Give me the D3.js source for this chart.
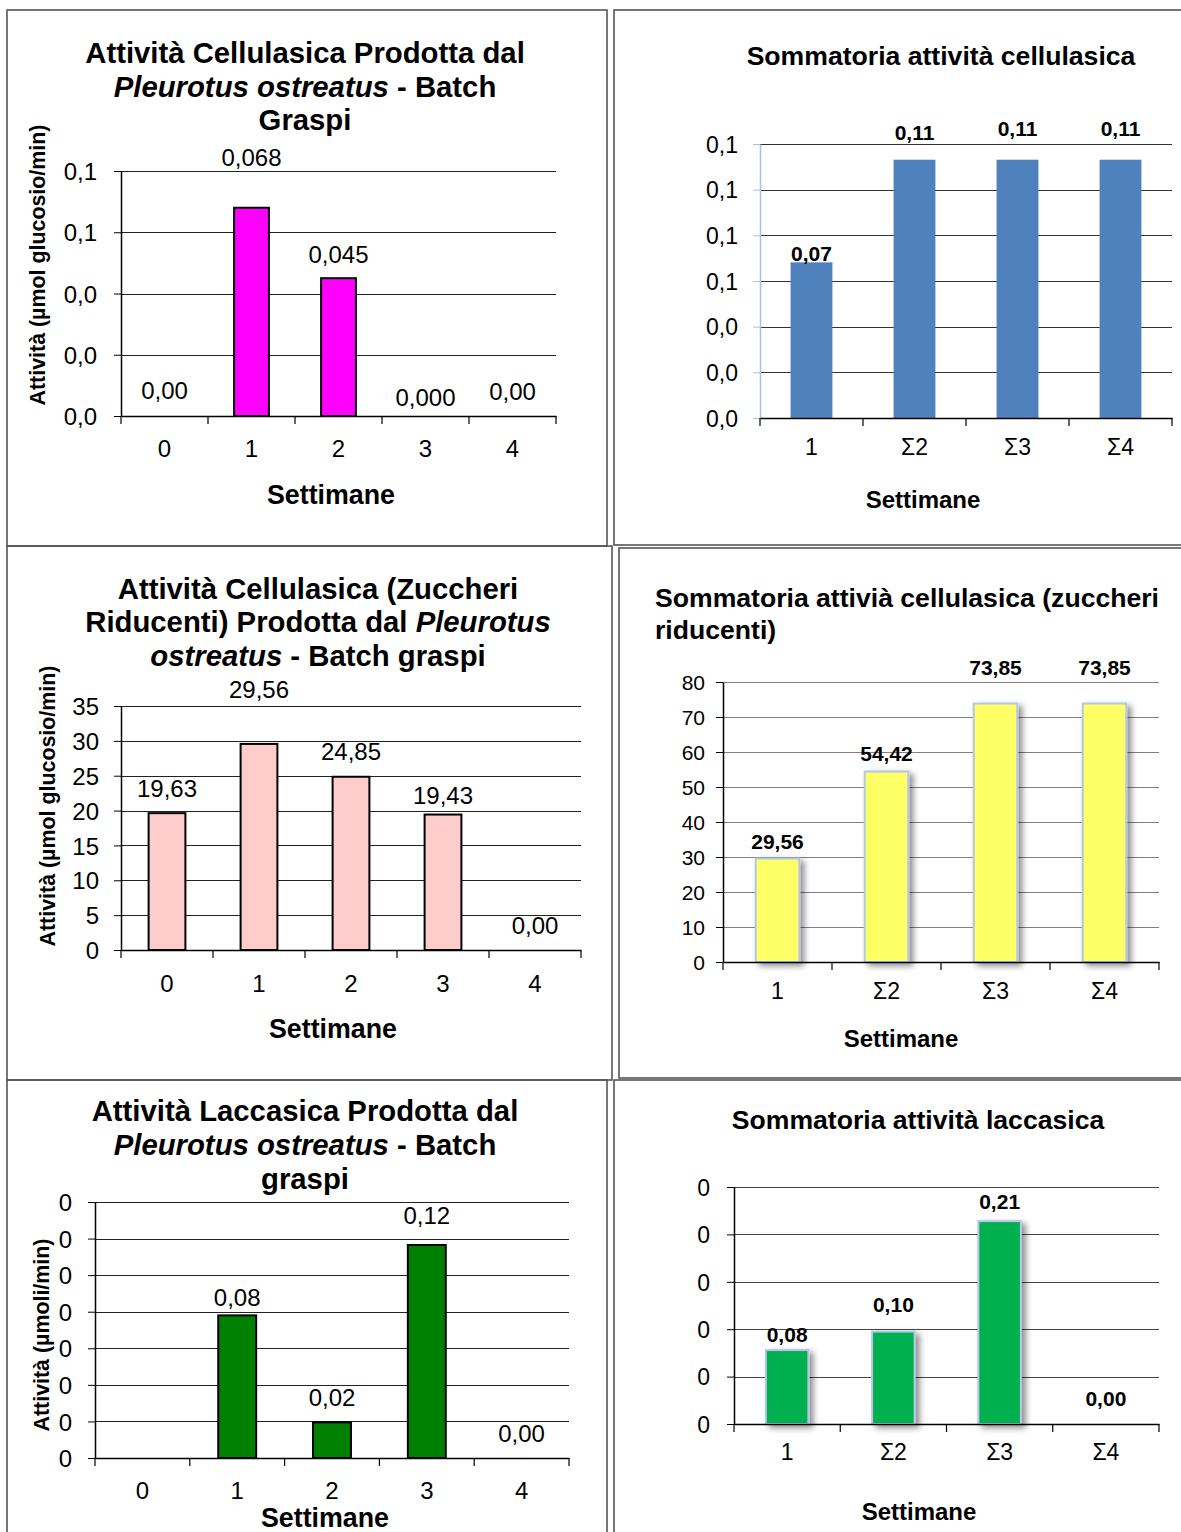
<!DOCTYPE html>
<html><head><meta charset="utf-8">
<script src="https://cdn.jsdelivr.net/npm/d3@7"></script>
<style>
body{margin:0;background:#fff}
svg{display:block}
text{font-family:"Liberation Sans",Arial,Helvetica,sans-serif;fill:#000}
</style>
</head><body>
<svg id="c" width="1181" height="1532"></svg>
<script>
// ---------------- DATA ----------------
const weeks = ["0", "1", "2", "3", "4"];
const sumWeeks = ["1", "Σ2", "Σ3", "Σ4"];

const cellValues = [0, 0.068, 0.045, 0, 0];
const cellLabels = ["0,00", "0,068", "0,045", "0,000", "0,00"];
const cellTicks = [0, 0.02, 0.04, 0.06, 0.08];

const cellSumValues = [0.068, 0.113, 0.113, 0.113];
const cellSumLabels = ["0,07", "0,11", "0,11", "0,11"];
const cellSumTicks = [0, 0.02, 0.04, 0.06, 0.08, 0.10, 0.12];

const sugarValues = [19.63, 29.56, 24.85, 19.43, 0];
const sugarLabels = ["19,63", "29,56", "24,85", "19,43", "0,00"];
const sugarTicks = [0, 5, 10, 15, 20, 25, 30, 35];

const sugarSumValues = [29.56, 54.42, 73.85, 73.85];
const sugarSumLabels = ["29,56", "54,42", "73,85", "73,85"];
const sugarSumTicks = [0, 10, 20, 30, 40, 50, 60, 70, 80];

const laccValues = [null, 0.078, 0.0195, 0.1165, 0];
const laccLabels = [null, "0,08", "0,02", "0,12", "0,00"];
const laccTicks = [0, 0.02, 0.04, 0.06, 0.08, 0.10, 0.12, 0.14];

const laccSumValues = [0.078, 0.0975, 0.214, 0];
const laccSumLabels = ["0,08", "0,10", "0,21", "0,00"];
const laccSumTicks = [0, 0.05, 0.10, 0.15, 0.20, 0.25];

// --------------- FORMAT ---------------
const locale = d3.formatLocale({decimal: ",", thousands: ".", grouping: [3], currency: ["", "€"]});
const f1 = locale.format(".1f");
const f0 = locale.format(".0f");

// --------------- LAYOUT / STYLE ---------------
const svg = d3.select("#c");
const defs = svg.append("defs");
const flt = defs.append("filter").attr("id", "shadow").attr("x", "-30%").attr("y", "-30%").attr("width", "170%").attr("height", "170%");
flt.append("feGaussianBlur").attr("in", "SourceAlpha").attr("stdDeviation", 3).attr("result", "b");
flt.append("feOffset").attr("in", "b").attr("dx", 4).attr("dy", 3).attr("result", "o");
flt.append("feComponentTransfer").attr("in", "o").attr("result", "s")
  .append("feFuncA").attr("type", "linear").attr("slope", 0.45);
const fm = flt.append("feMerge");
fm.append("feMergeNode").attr("in", "s");
fm.append("feMergeNode").attr("in", "SourceGraphic");

const panels = [
  { // top-left
    frame: [7, 10, 600, 536],
    plot: {left: 121, right: 556, top: 171, bottom: 416},
    categories: weeks, values: cellValues, labels: cellLabels, ticks: cellTicks, fmt: f1,
    lifts: [26, 50, 24, 19, 25],
    title: [[{t: "Attività Cellulasica Prodotta dal"}], [{t: "Pleurotus ostreatus", i: true}, {t: " - Batch"}], [{t: "Graspi"}]],
    titleX: 305, titleY: [63, 97, 130], titleSize: 29.3, titleAnchor: "middle",
    yTitle: "Attività (µmol glucosio/min)", yTitleX: 45, yTitleY: 265, yTitleSize: 21.4,
    xTitleX: 331, xTitleY: 504, xTitleSize: 26.8,
    tickFont: 24, xTickFont: 24, yLabelEnd: 97, xLabelY: 448,
    labelFont: 24, labelWeight: "normal",
    bar: {fill: "#ff00ff", stroke: "#000", sw: 2, shadow: false},
    grid: "#222", yAxisColor: "#000"
  },
  { // top-right
    frame: [614, 10, 620, 535],
    plot: {left: 760, right: 1172, top: 144, bottom: 418},
    categories: sumWeeks, values: cellSumValues, labels: cellSumLabels, ticks: cellSumTicks, fmt: f1,
    lifts: [9, 28, 32, 32],
    title: [[{t: "Sommatoria attività cellulasica"}]],
    titleX: 941, titleY: [65], titleSize: 26.6, titleAnchor: "middle",
    xTitleX: 923, xTitleY: 508, xTitleSize: 24,
    tickFont: 23, xTickFont: 23, yLabelEnd: 738, xLabelY: 447,
    labelFont: 21, labelWeight: "bold",
    bar: {fill: "#4f81bd", stroke: "#4f81bd", sw: 0.5, shadow: false},
    grid: "#333", yAxisColor: "#a9bfe3"
  },
  { // middle-left
    frame: [7, 546, 605, 534],
    plot: {left: 121, right: 581, top: 706, bottom: 950},
    categories: weeks, values: sugarValues, labels: sugarLabels, ticks: sugarTicks, fmt: f0,
    lifts: [25, 55, 25, 19, 25],
    title: [[{t: "Attività Cellulasica (Zuccheri"}], [{t: "Riducenti) Prodotta dal "}, {t: "Pleurotus", i: true}], [{t: "ostreatus", i: true}, {t: " - Batch graspi"}]],
    titleX: 318, titleY: [599, 632, 666], titleSize: 29.3, titleAnchor: "middle",
    yTitle: "Attività (µmol glucosio/min)", yTitleX: 55, yTitleY: 806, yTitleSize: 21.4,
    xTitleX: 333, xTitleY: 1038, xTitleSize: 26.8,
    tickFont: 24, xTickFont: 24, yLabelEnd: 99, xLabelY: 983,
    labelFont: 24, labelWeight: "normal",
    bar: {fill: "#ffcccc", stroke: "#000", sw: 2, shadow: false},
    grid: "#222", yAxisColor: "#000"
  },
  { // middle-right
    frame: [619, 548, 620, 530],
    plot: {left: 723, right: 1159, top: 682, bottom: 962},
    categories: sumWeeks, values: sugarSumValues, labels: sugarSumLabels, ticks: sugarSumTicks, fmt: f0,
    lifts: [17, 18, 36, 36],
    title: [[{t: "Sommatoria attivià cellulasica (zuccheri"}], [{t: "riducenti)"}]],
    titleX: 655, titleY: [607, 639], titleSize: 26.6, titleAnchor: "start",
    xTitleX: 901, xTitleY: 1047, xTitleSize: 24,
    tickFont: 21, xTickFont: 23, yLabelEnd: 705, xLabelY: 991,
    labelFont: 21, labelWeight: "bold",
    bar: {fill: "#ffff66", stroke: "#b4c7e7", sw: 2, shadow: true},
    grid: "#808080", yAxisColor: "#000"
  },
  { // bottom-left
    frame: [7, 1080, 600, 500],
    plot: {left: 95, right: 569, top: 1202, bottom: 1458},
    categories: weeks, values: laccValues, labels: laccLabels, ticks: laccTicks, fmt: f0,
    lifts: [25, 18, 25, 30, 25],
    title: [[{t: "Attività Laccasica Prodotta dal"}], [{t: "Pleurotus ostreatus", i: true}, {t: " - Batch"}], [{t: "graspi"}]],
    titleX: 305, titleY: [1121, 1155, 1189], titleSize: 29.3, titleAnchor: "middle",
    yTitle: "Attività (µmoli/min)", yTitleX: 49, yTitleY: 1335, yTitleSize: 21.4,
    xTitleX: 325, xTitleY: 1527, xTitleSize: 26.8,
    tickFont: 24, xTickFont: 24, yLabelEnd: 72, xLabelY: 1490,
    labelFont: 24, labelWeight: "normal",
    bar: {fill: "#008000", stroke: "#000", sw: 2, shadow: false},
    grid: "#222", yAxisColor: "#000"
  },
  { // bottom-right
    frame: [614, 1080, 620, 500],
    plot: {left: 734, right: 1159, top: 1187, bottom: 1424},
    categories: sumWeeks, values: laccSumValues, labels: laccSumLabels, ticks: laccSumTicks, fmt: f0,
    lifts: [16, 27, 20, 26],
    title: [[{t: "Sommatoria attività laccasica"}]],
    titleX: 918, titleY: [1129], titleSize: 26.6, titleAnchor: "middle",
    xTitleX: 919, xTitleY: 1520, xTitleSize: 24,
    tickFont: 23, xTickFont: 23, yLabelEnd: 710, xLabelY: 1452,
    labelFont: 21, labelWeight: "bold",
    bar: {fill: "#00b050", stroke: "#b4c7e7", sw: 2, shadow: true},
    grid: "#444", yAxisColor: "#000"
  }
];

function drawPanel(c) {
  const g = svg.append("g");
  const [fx, fy, fw, fh] = c.frame;
  g.append("rect").attr("x", fx).attr("y", fy).attr("width", fw).attr("height", fh)
    .attr("fill", "none").attr("stroke", "#555").attr("stroke-width", 1.6);

  const p = c.plot;
  const x = d3.scaleBand().domain(c.categories).range([p.left, p.right]).paddingInner(0).paddingOuter(0);
  const y = d3.scaleLinear().domain([0, d3.max(c.ticks)]).range([p.bottom, p.top]);
  const bw = x.bandwidth();
  const ratio = 0.4;

  // gridlines
  g.append("g").selectAll("line").data(c.ticks.filter(t => t > 0)).join("line")
    .attr("x1", p.left).attr("x2", p.right)
    .attr("y1", d => Math.round(y(d)) + 0.5).attr("y2", d => Math.round(y(d)) + 0.5)
    .attr("stroke", c.grid).attr("stroke-width", 1);

  // bars
  const data = c.values.map((v, i) => ({cat: c.categories[i], v, label: c.labels[i], lift: c.lifts[i]}));
  g.append("g").selectAll("rect").data(data.filter(d => d.v != null && d.v > 0)).join("rect")
    .attr("x", d => x(d.cat) + bw * (1 - ratio) / 2)
    .attr("width", bw * ratio)
    .attr("y", d => y(d.v))
    .attr("height", d => y(0) - y(d.v))
    .attr("fill", c.bar.fill).attr("stroke", c.bar.stroke).attr("stroke-width", c.bar.sw)
    .attr("filter", c.bar.shadow ? "url(#shadow)" : null);

  // y axis
  const yAx = d3.axisLeft(y).tickValues(c.ticks).tickFormat(c.fmt).tickSize(7).tickSizeOuter(0)
    .tickPadding(p.left - 7 - c.yLabelEnd);
  const yg = g.append("g").attr("transform", `translate(${p.left},0)`).call(yAx);
  yg.select(".domain").attr("stroke", c.yAxisColor).attr("stroke-width", 1.5);
  yg.selectAll(".tick line").attr("stroke", c.yAxisColor).attr("stroke-width", 1);
  yg.selectAll(".tick text").attr("font-size", c.tickFont).attr("fill", "#000")
    .attr("font-family", "Liberation Sans, Arial, sans-serif").attr("dy", "0.36em");

  // x axis
  const xAx = d3.axisBottom(x).tickSize(0).tickSizeOuter(0).tickPadding(0);
  const xg = g.append("g").attr("transform", `translate(0,${p.bottom})`).call(xAx);
  xg.select(".domain").attr("stroke", "#000").attr("stroke-width", 1.5);
  xg.selectAll(".tick text").attr("font-size", c.xTickFont).attr("fill", "#000")
    .attr("font-family", "Liberation Sans, Arial, sans-serif")
    .attr("y", c.xLabelY - p.bottom).attr("dy", "0.36em");
  const edges = c.categories.map(k => x(k)).concat([x(c.categories[c.categories.length - 1]) + bw]);
  g.append("g").selectAll("line").data(edges).join("line")
    .attr("x1", d => d).attr("x2", d => d)
    .attr("y1", p.bottom).attr("y2", p.bottom + 8)
    .attr("stroke", "#000").attr("stroke-width", 1.2);

  // data labels
  g.append("g").selectAll("text").data(data.filter(d => d.label != null)).join("text")
    .attr("x", d => x(d.cat) + bw / 2)
    .attr("y", d => y(d.v) - d.lift)
    .attr("dy", "0.36em")
    .attr("text-anchor", "middle")
    .attr("font-size", c.labelFont).attr("font-weight", c.labelWeight)
    .text(d => d.label);

  // title
  c.title.forEach((line, li) => {
    const t = g.append("text").attr("x", c.titleX).attr("y", c.titleY[li])
      .attr("text-anchor", c.titleAnchor).attr("font-size", c.titleSize).attr("font-weight", "bold");
    line.forEach(seg => t.append("tspan").attr("font-style", seg.i ? "italic" : "normal").text(seg.t));
  });

  // axis titles
  g.append("text").attr("x", c.xTitleX).attr("y", c.xTitleY).attr("text-anchor", "middle")
    .attr("font-size", c.xTitleSize).attr("font-weight", "bold").text("Settimane");
  if (c.yTitle) {
    g.append("text").attr("transform", `translate(${c.yTitleX},${c.yTitleY}) rotate(-90)`)
      .attr("text-anchor", "middle").attr("font-size", c.yTitleSize).attr("font-weight", "bold")
      .text(c.yTitle);
  }
}

panels.forEach(drawPanel);
</script>
</body></html>
